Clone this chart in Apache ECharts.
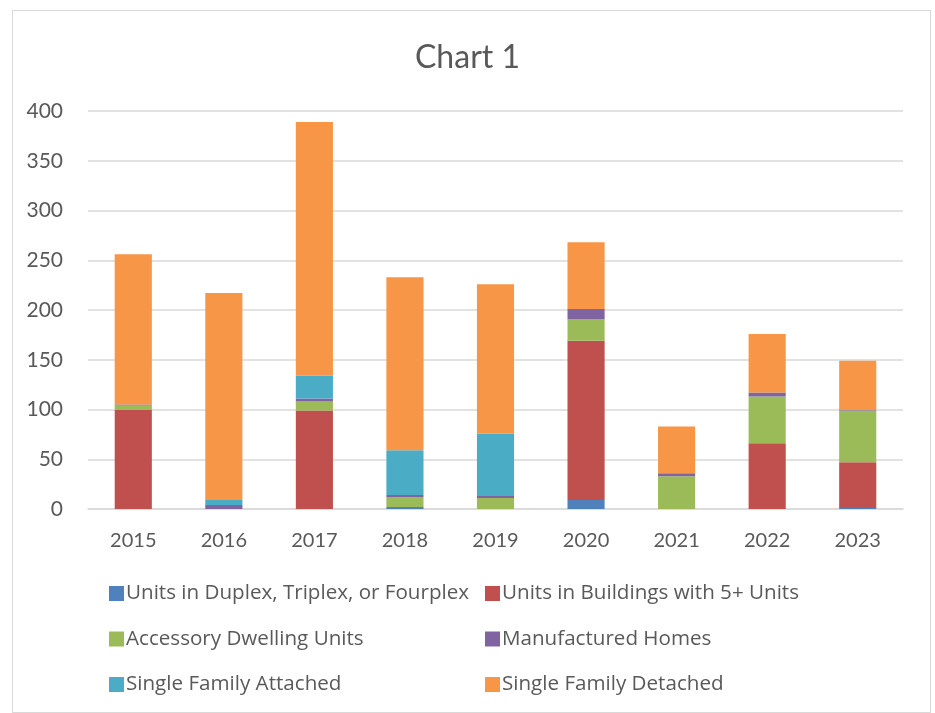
<!DOCTYPE html>
<html>
<head>
<meta charset="utf-8">
<script src="https://cdn.jsdelivr.net/npm/echarts@6/dist/echarts.min.js"></script>
<style>
    html, body { margin: 0; padding: 0; background: #fff; }
    #chart_con { position: absolute; left: 12px; top: 10px; width: 919px; height: 703px; border: 1px solid #d9d9d9; box-sizing: border-box; }
    #chart { position: absolute; left: 0; top: 0; width: 935px; height: 713px; }
</style>
</head>
<body>
<div id="chart_con"></div>
<div id="chart"></div>
<script>
// values
let years = ['2015', '2016', '2017', '2018', '2019', '2020', '2021', '2022', '2023'];
let duplex = [0, 0, 0, 2, 0, 9, 0, 0, 1];
let fivePlus = [100, 0, 99, 0, 0, 160, 0, 66, 46];
let adu = [4, 0, 9, 10, 11, 22, 33, 47, 52];
let manufactured = [1, 4, 3, 2, 2, 10, 3, 4, 1];
let sfAttached = [0, 5, 23, 45, 63, 0, 0, 0, 0];
let sfDetached = [151, 208, 255, 174, 150, 67, 47, 59, 49];
let names = [
    'Units in Duplex, Triplex, or Fourplex',
    'Units in Buildings with 5+ Units',
    'Accessory Dwelling Units',
    'Manufactured Homes',
    'Single Family Attached',
    'Single Family Detached'
];
let colors = ['#4f81bd', '#c0504d', '#9bbb59', '#8064a2', '#4bacc6', '#f79646'];
let seriesData = [duplex, fivePlus, adu, manufactured, sfAttached, sfDetached];

const font = 'Lato, "Open Sans", sans-serif';
const textColor = '#595959';

var chart = echarts.init(document.getElementById('chart'));
let legendBase = {
    orient: 'vertical',
    itemWidth: 15,
    itemHeight: 15,
    itemGap: 24.5,
    icon: 'rect',
    textStyle: { fontSize: 20.6, color: textColor, fontFamily: '"Open Sans", sans-serif', padding: [0, 0, 0, -3] }
};
const option = {
    animation: false,
    title: {
        text: 'Chart 1',
        left: 'center',
        top: 37,
        textStyle: { fontSize: 32, fontWeight: 'normal', color: textColor, fontFamily: font }
    },
    legend: [
        Object.assign({}, legendBase, { left: 104, top: 578, data: [names[0], names[2], names[4]] }),
        Object.assign({}, legendBase, { left: 480, top: 578, data: [names[1], names[3], names[5]] })
    ],
    grid: { left: 88, right: 32, top: 111, bottom: 204 },
    xAxis: {
        type: 'category',
        data: years,
        axisTick: { show: false },
        axisLine: { lineStyle: { color: '#d9d9d9', width: 1.5 } },
        axisLabel: { fontSize: 20, color: textColor, fontFamily: font, margin: 22 }
    },
    yAxis: {
        type: 'value',
        min: 0,
        max: 400,
        interval: 50,
        axisLabel: { fontSize: 21, color: textColor, fontFamily: font, margin: 25 },
        splitLine: { lineStyle: { color: '#d9d9d9', width: 1.5 } }
    },
    series: names.map((name, i) => ({
        name: name,
        type: 'bar',
        stack: 'total',
        barWidth: '41%',
        data: seriesData[i],
        itemStyle: { color: colors[i] }
    }))
};
chart.setOption(option);
</script>
</body>
</html>
